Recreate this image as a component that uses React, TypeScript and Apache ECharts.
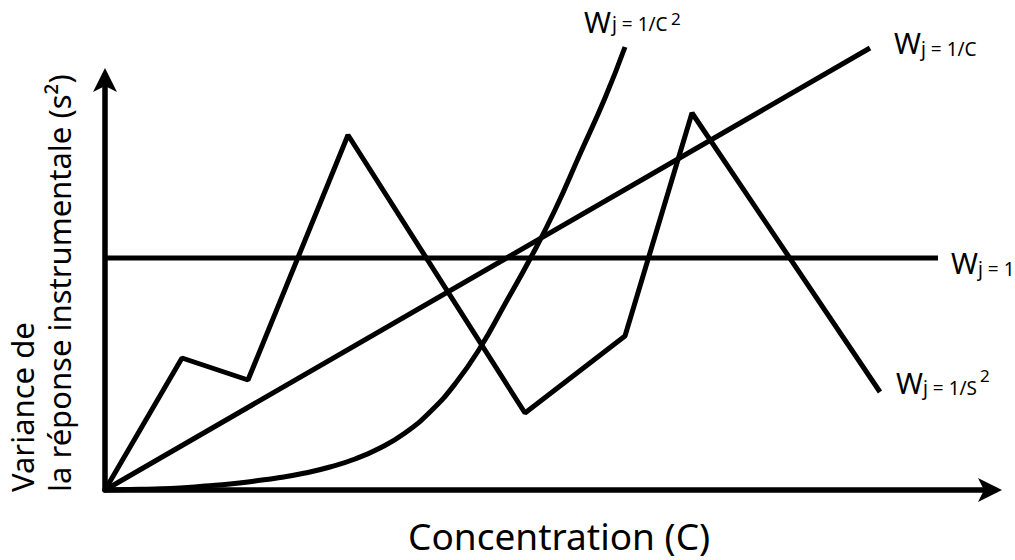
import React, { useEffect, useRef } from "react";
import * as echarts from "echarts";

// Data in chart units (x: concentration, y: variance)
const constantX = [0, 833];
const constantY = [232, 232];
const invCX = [0, 765];
const invCY = [0, 442];
const invC2X = [0, 25, 50, 75, 100, 125, 150, 175, 200, 225, 250, 275, 300, 325, 350, 375, 400, 425, 450, 475, 500, 520];
const invC2Y = [0, 0.5, 1, 2, 4, 6, 9, 12.5, 17, 23, 31, 42, 57, 78, 106, 142, 186, 231, 280, 336, 392, 443];
const invS2X = [0, 77, 143, 243, 420, 520, 587, 775];
const invS2Y = [0, 132, 110, 355, 77, 154, 377, 98];

const xTitle = "Concentration (C)";
const yTitleLine1 = "Variance de";
const yTitleLine2 = "la réponse instrumentale (s²)";
const FONT = "'Noto Sans'";

const pairs = (xs: number[], ys: number[]) => xs.map((x, i) => [x, ys[i]]);

function label(parts: { t: string; x: number; y: number; s: number }[]) {
  return parts.map((p) => ({
    type: "text",
    x: p.x,
    y: p.y,
    silent: true,
    style: {
      text: p.t,
      fill: "#000",
      font: `${p.s}px ${FONT}`,
      align: "left",
      verticalAlign: "middle",
    },
  }));
}

export default function App() {
  const ref = useRef<HTMLDivElement>(null);
  useEffect(() => {
    if (!ref.current) return;
    const chart = echarts.init(ref.current, null, { renderer: "svg" });
    const lineStyle = { color: "#000", width: 5 };
    const mk = (name: string, data: number[][], smooth: boolean | number = false) => ({
      name,
      type: "line",
      data,
      smooth,
      clip: false,
      showSymbol: false,
      symbol: "none",
      lineStyle,
      silent: true,
    });
    const axisLine = {
      show: true,
      onZero: false,
      symbol: ["none", "arrow"],
      symbolSize: [18, 24],
      symbolOffset: [0, 7],
      lineStyle: { color: "#000", width: 5.5 },
    };
    chart.setOption({
      animation: false,
      grid: { left: 105, right: 20, top: 75, bottom: 70 },
      xAxis: {
        type: "value",
        min: 0,
        max: 890,
        axisLine,
        axisTick: { show: false },
        axisLabel: { show: false },
        splitLine: { show: false },
      },
      yAxis: {
        type: "value",
        min: 0,
        max: 415,
        axisLine,
        axisTick: { show: false },
        axisLabel: { show: false },
        splitLine: { show: false },
      },
      series: [
        mk("W j = 1", pairs(constantX, constantY)),
        mk("W j = 1/C", pairs(invCX, invCY)),
        mk("W j = 1/C²", pairs(invC2X, invC2Y), 0.5),
        mk("W j = 1/S²", pairs(invS2X, invS2Y)),
      ],
      graphic: [
        ...label([
          { t: "W", x: 584, y: 21, s: 29 },
          { t: "j = 1/C", x: 612, y: 24, s: 19 },
          { t: "2", x: 671, y: 18, s: 17 },
        ]),
        ...label([
          { t: "W", x: 894, y: 42, s: 29 },
          { t: "j = 1/C", x: 921, y: 49, s: 19 },
        ]),
        ...label([
          { t: "W", x: 951, y: 262, s: 29 },
          { t: "j = 1", x: 978, y: 269, s: 19 },
        ]),
        ...label([
          { t: "W", x: 896, y: 382, s: 29 },
          { t: "j = 1/S", x: 923, y: 388, s: 19 },
          { t: "2", x: 980, y: 375, s: 17 },
        ]),
        {
          type: "text",
          x: 408,
          y: 535,
          silent: true,
          style: { text: xTitle, fill: "#000", font: `37px ${FONT}`, align: "left", verticalAlign: "middle" },
        },
        {
          type: "text",
          x: 22,
          y: 492,
          rotation: Math.PI / 2,
          silent: true,
          style: { text: yTitleLine1, fill: "#000", font: `31px ${FONT}`, align: "left", verticalAlign: "middle" },
        },
        {
          type: "text",
          x: 59,
          y: 492,
          rotation: Math.PI / 2,
          silent: true,
          style: { text: yTitleLine2, fill: "#000", font: `31px ${FONT}`, align: "left", verticalAlign: "middle" },
        },
      ],
    });
    return () => chart.dispose();
  }, []);
  return (
    <div
      ref={ref}
      style={{ position: "fixed", left: 0, top: 0, width: 1015, height: 560, background: "#fff" }}
    />
  );
}
